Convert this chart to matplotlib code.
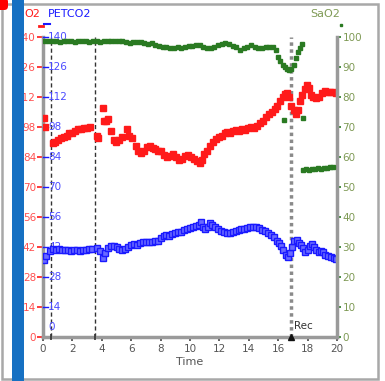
import matplotlib
matplotlib.use("Agg")
import matplotlib.pyplot as plt
from matplotlib.patches import Rectangle, FancyBboxPatch
import matplotlib.transforms as mtransforms

# ---- data -------------------------------------------------------------
o2_time = [0.05, 0.15, 0.7, 0.85, 1.0, 1.2, 1.4, 1.6, 1.8, 2.0, 2.2, 2.4, 2.6, 2.8, 3.0, 3.2,
           3.65, 3.75, 4.1, 4.15, 4.3, 4.45, 4.6, 4.8, 4.95, 5.15, 5.4, 5.7, 5.85, 6.05, 6.3,
           6.45, 6.65, 6.85, 7.05, 7.25, 7.45, 7.65, 7.85, 8.05, 8.25, 8.45, 8.65, 8.85, 9.05,
           9.25, 9.45, 9.65, 9.85, 10.05, 10.25, 10.45, 10.65, 10.8, 10.95, 11.15, 11.35, 11.55,
           11.75, 11.95, 12.15, 12.35, 12.55, 12.75, 12.95, 13.15, 13.35, 13.55, 13.75, 13.95,
           14.15, 14.35, 14.55, 14.75, 14.95, 15.15, 15.35, 15.55, 15.75, 15.95, 16.15, 16.3,
           16.45, 16.6, 16.75, 16.9, 17.05, 17.2, 17.35, 17.5, 17.65, 17.8, 17.95, 18.1, 18.25,
           18.4, 18.55, 18.75, 18.95, 19.15, 19.35, 19.55, 19.75, 19.95]
o2_value = [102, 98, 90.5, 91, 92, 93, 93.5, 94, 95, 95, 96, 97, 97, 97.5, 97.5, 98,
            94, 93, 107, 101, 101, 101.5, 96, 92, 91, 92, 93.5, 97, 94, 93, 89,
            87, 86, 87, 88.5, 89, 88, 87.5, 87, 87, 85, 84, 84.5, 85.5, 84,
            82.5, 83, 84.5, 85, 84, 83, 82, 81, 82.5, 85.5, 87, 89, 91,
            92.5, 93.5, 94, 95, 95.5, 95, 96, 96.5, 96, 97, 96.5, 97.5,
            98, 97.5, 98.5, 100, 101, 102.5, 104, 105, 106.5, 108, 110, 112,
            113.5, 114, 112, 108, 106, 104, 106, 110, 113, 115.5, 117.5, 116, 113,
            112, 111.5, 112, 114, 115, 114.5, 114.5, 114.5, 114]

petco2_time = [0.05, 0.2, 0.5, 0.7, 0.9, 1.1, 1.3, 1.5, 1.7, 1.9, 2.1, 2.3, 2.5, 2.7, 2.9, 3.1, 3.3,
               3.65, 3.85, 4.05, 4.2, 4.4, 4.6, 4.8, 5.0, 5.2, 5.4, 5.6, 5.8, 6.0, 6.2, 6.4, 6.6,
               6.8, 7.0, 7.2, 7.4, 7.6, 7.8, 8.0, 8.2, 8.4, 8.6, 8.8, 9.0, 9.2, 9.4, 9.6, 9.8,
               10.0, 10.2, 10.4, 10.6, 10.75, 10.9, 11.05, 11.2, 11.35, 11.5, 11.7, 11.9, 12.1,
               12.3, 12.5, 12.7, 12.9, 13.1, 13.3, 13.5, 13.7, 13.9, 14.1, 14.3, 14.5, 14.7, 14.9,
               15.1, 15.3, 15.5, 15.7, 15.9, 16.05, 16.2, 16.35, 16.5, 16.65, 16.8, 16.95, 17.1,
               17.25, 17.4, 17.55, 17.7, 17.85, 18.0, 18.15, 18.3, 18.45, 18.6, 18.75, 18.9,
               19.05, 19.2, 19.4, 19.6, 19.8, 19.95]
petco2_value = [36, 38, 40, 41, 40.5, 41, 40.5, 40.5, 40.5, 40, 40.5, 40.5, 40, 40.5, 40.5, 41, 41,
                41.5, 40, 37, 39, 41.5, 42.5, 42.5, 42, 41, 40.5, 41, 42, 43, 43.5, 43, 44,
                44.5, 44.5, 44.5, 44.5, 45, 45, 46, 47, 47.5, 47, 48, 48.5, 49, 49, 50, 50.5,
                51, 51.5, 52, 52.5, 53.5, 51.5, 50.5, 51.5, 53, 52.5, 51.5, 50.5, 49.5,
                49, 48.5, 48.5, 49, 49.5, 50, 50.5, 50.5, 51, 51.5, 51.5, 51.5, 51, 50,
                49.5, 48.5, 47.5, 46.5, 45, 44, 42.5, 40.5, 38.5, 37.5, 39, 42, 45,
                45.5, 44, 43, 41.5, 39.5, 40.5, 42.5, 43.5, 42, 40.5, 39.5, 40,
                39.5, 38.5, 38, 37.5, 37, 36.5]

sao2_time = [0.15, 0.4, 0.65, 0.9, 1.15, 1.4, 1.65, 1.9, 2.15, 2.4, 2.65, 2.9, 3.15, 3.4, 3.65,
             3.9, 4.15, 4.4, 4.65, 4.9, 5.15, 5.4, 5.65, 5.9, 6.15, 6.4, 6.65, 6.9, 7.15, 7.4,
             7.65, 7.9, 8.15, 8.4, 8.65, 8.9, 9.15, 9.4, 9.65, 9.9, 10.15, 10.4, 10.65, 10.9,
             11.15, 11.4, 11.65, 11.9, 12.15, 12.4, 12.65, 12.9, 13.15, 13.4, 13.65, 13.9,
             14.15, 14.4, 14.65, 14.9, 15.15, 15.4, 15.65, 15.85, 16.0, 16.15, 16.3, 16.45,
             16.6, 16.75, 16.9, 17.05, 17.2, 17.35, 17.5, 17.65,
             16.4, 17.7,
             17.7, 17.9, 18.1, 18.3, 18.5, 18.7, 18.9, 19.1, 19.3, 19.5, 19.7]
sao2_value = [98.5, 98.5, 98.5, 98.7, 98.3, 98.5, 98.7, 98.5, 98.3, 98.5, 98.5, 98.7, 98.3, 98.5, 98.5,
              98.3, 98.7, 98.5, 98.7, 98.7, 98.5, 98.7, 98.3, 98, 98.3, 98.3, 98.3, 98, 97.7, 98,
              97.3, 97, 96.7, 96.7, 96.3, 96.3, 96.7, 96.3, 96.7, 97, 97, 97.3, 97.3, 96.7,
              96.3, 96.3, 96.7, 97.3, 97.7, 98, 97.7, 97, 96.7, 95.7, 96.3, 96.7,
              97.3, 96.7, 96.3, 96.3, 96.7, 96.7, 96.7, 95.7, 93.3, 92, 90.7, 90,
              89.3, 89, 89.3, 90.7, 93, 95, 96.3, 97.7,
              72.3, 73,
              55.7, 56, 55.7, 56, 56, 56.3, 56, 56.3, 56.3, 56.7, 56.7]

left_ticks = [0, 14, 28, 42, 56, 70, 84, 98, 112, 126, 140]
right_ticks = [0, 10, 20, 30, 40, 50, 60, 70, 80, 90, 100]
time_ticks = [0, 2, 4, 6, 8, 10, 12, 14, 16, 18, 20]
event_times = [0.55, 3.55]
recovery_time = 16.85

RED = "#ff1a1a"
BLUE = "#1a1aff"
GREEN = "#2a7a22"
OLIVE = "#7f9a55"
GREY_TXT = "#555555"
SPINE = "#9a9a9a"

# ---- figure -----------------------------------------------------------
fig = plt.figure(figsize=(3.85, 3.81), dpi=100)
W, H = 385, 381

def fx(px):
    return px / W

def fy(py):
    return 1 - py / H

# outer frame and corner mark
frame = Rectangle((fx(2), fy(379)), fx(376), (379 - 4) / H, transform=fig.transFigure,
                  fill=False, edgecolor="#a8a8a8", linewidth=1.8, zorder=0)
fig.add_artist(frame)
fig.add_artist(FancyBboxPatch((fx(-4), fy(10)), fx(12), 12 / H, boxstyle="round,pad=0,rounding_size=0.01",
                              transform=fig.transFigure, facecolor="#ff0000", edgecolor="none", zorder=5))

ax = fig.add_axes([fx(43), fy(337), fx(294), 300 / H])
ax.set_xlim(0, 20)
ax.set_ylim(0, 140)
ax.patch.set_alpha(0)

for s in ["top", "right"]:
    ax.spines[s].set_visible(False)
ax.spines["left"].set_color(SPINE)
ax.spines["left"].set_linewidth(2.5)
ax.spines["bottom"].set_color(SPINE)
ax.spines["bottom"].set_linewidth(2.5)

ax.set_xticks(time_ticks)
ax.set_xticklabels([str(t) for t in time_ticks], color=GREY_TXT, fontsize=7.5)
ax.tick_params(axis="x", length=3, width=1.2, color="#444444", pad=2)
ax.set_xlabel("Time", color=GREY_TXT, fontsize=8, labelpad=2)

ax.set_yticks(left_ticks)
ax.set_yticklabels([str(v) for v in left_ticks], color="#ff5050", fontsize=7.5)
ax.tick_params(axis="y", length=4, width=1.2, color=RED, pad=1)

# second set of scale labels just inside the left axis (PETCO2)
blend = mtransforms.blended_transform_factory(ax.transAxes, ax.transData)
for v in left_ticks:
    yy = v if v > 0 else 4.5
    ax.text(0.018, yy, str(v), transform=blend, color="#4a4aff", fontsize=7.5,
            ha="left", va="center", zorder=3)
    if v > 0:
        ax.plot([0.0, 0.016], [v, v], transform=blend, color=BLUE, lw=1.0, clip_on=False, zorder=3)

# right axis (SaO2)
ax2 = ax.twinx()
ax2.set_ylim(0, 100)
ax2.set_xlim(0, 20)
for s in ["top", "left", "bottom"]:
    ax2.spines[s].set_visible(False)
ax2.spines["right"].set_color(SPINE)
ax2.spines["right"].set_linewidth(2.5)
ax2.set_yticks(right_ticks)
ax2.set_yticklabels([str(v) for v in right_ticks], color=OLIVE, fontsize=7.5)
ax2.tick_params(axis="y", length=3, width=1.2, color=GREEN, pad=1)

# event markers
for t in event_times:
    ax.plot([t, t], [0, 140], color="#333333", lw=1.0, ls=(0, (3, 2)), zorder=2)
ax.plot([recovery_time, recovery_time], [0, 140], color="#8a8a8a", lw=2.5, ls=(0, (1, 1)), zorder=2)
ax.text(recovery_time + 0.25, 5, "Rec", color="#333333", fontsize=7.5, ha="left", va="center")
ax.plot([recovery_time], [0], marker="^", color="#111111", ms=4, clip_on=False, zorder=6)
for t in event_times:
    ax.plot([t], [0], marker="|", color="#333333", ms=4, mew=1.2, clip_on=False, zorder=6)

# series
ax.plot(o2_time, o2_value, ls="none", marker="s", ms=3.8, color=RED, mec=RED, zorder=4)
ax.plot(petco2_time, petco2_value, ls="none", marker="s", ms=3.9, mfc="#6a6aff", mec=BLUE,
        mew=1.0, zorder=4)
ax2.plot(sao2_time, sao2_value, ls="none", marker="s", ms=2.3, color=GREEN, mec=GREEN, zorder=4)

# series titles and key marks above the plot
fig.text(fx(40), fy(14), "O2", color=RED, fontsize=8, ha="right", va="center")
fig.text(fx(48), fy(14), "PETCO2", color=BLUE, fontsize=8, ha="left", va="center")
fig.text(fx(325), fy(14), "SaO2", color=OLIVE, fontsize=8, ha="center", va="center")
ax.plot([-0.3, 0.0], [145, 145], color=RED, lw=2.0, clip_on=False)
ax.plot([0.05, 0.45], [146, 146], color=BLUE, lw=1.5, clip_on=False)
ax2.plot([20.25], [104], marker="s", ms=1.5, color=GREEN, clip_on=False)

# left side bar drawn over everything
fig.add_artist(Rectangle((fx(12), 0), fx(11.5), 1, transform=fig.transFigure,
                         facecolor="#1670c2", edgecolor="none", zorder=10))

fig.savefig("out.png", dpi=100)
